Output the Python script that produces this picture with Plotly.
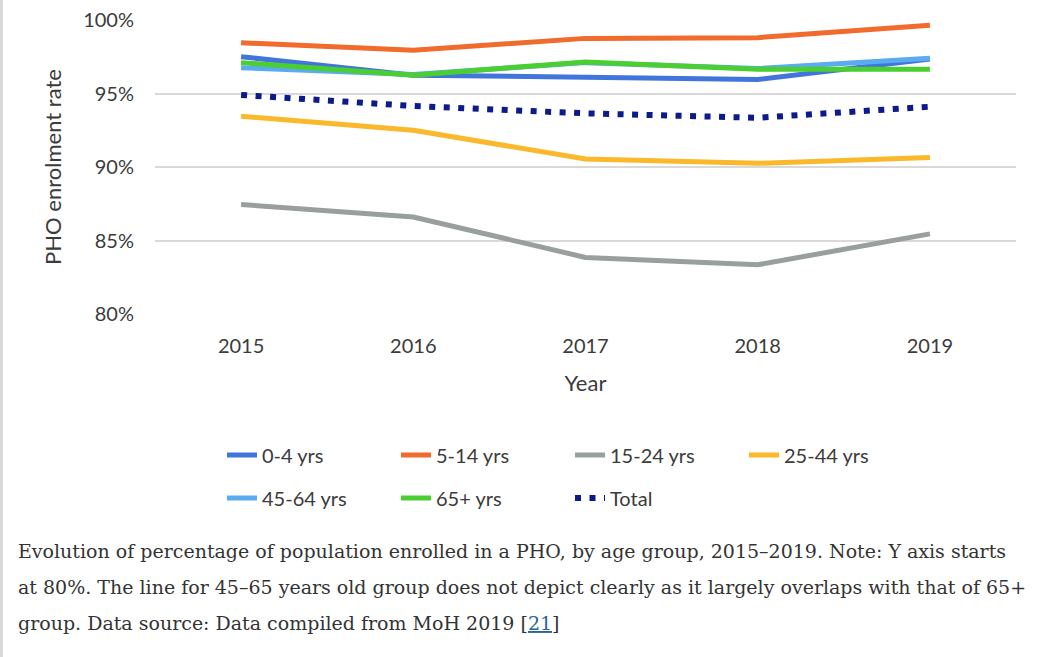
import plotly.graph_objects as go

# values
years = ["2015", "2016", "2017", "2018", "2019"]
age_0_4 = [97.5, 96.25, 96.1, 95.95, 97.35]
age_5_14 = [98.45, 97.95, 98.75, 98.8, 99.65]
age_15_24 = [87.45, 86.6, 83.85, 83.35, 85.45]
age_25_44 = [93.45, 92.5, 90.55, 90.25, 90.65]
age_45_64 = [96.75, 96.3, 97.1, 96.7, 97.4]
age_65_plus = [97.1, 96.25, 97.15, 96.65, 96.65]
total = [94.9, 94.15, 93.65, 93.35, 94.1]

y_ticks = [80, 85, 90, 95, 100]
y_tick_labels = ["80%", "85%", "90%", "95%", "100%"]

caption_lines = [
    "Evolution of percentage of population enrolled in a PHO, by age group, 2015\u20132019. Note: Y axis starts",
    "at 80%. The line for 45\u201365 years old group does not depict clearly as it largely overlaps with that of 65+",
    "group. Data source: Data compiled from MoH 2019 [<span style='color:#2a6496'><u>21</u></span>]",
]

series = [
    ("0-4 yrs", age_0_4, "#4275dc", "solid", "legend"),
    ("5-14 yrs", age_5_14, "#f06b2c", "solid", "legend"),
    ("15-24 yrs", age_15_24, "#999f9d", "solid", "legend"),
    ("25-44 yrs", age_25_44, "#fab82a", "solid", "legend"),
    ("45-64 yrs", age_45_64, "#5aabf0", "solid", "legend2"),
    ("65+ yrs", age_65_plus, "#4bcf30", "solid", "legend2"),
    ("Total", total, "#0b1a8c", "6px,8.5px", "legend2"),
]

FONT = "Lato, Open Sans, sans-serif"
TXT = "#3b3b3b"

fig = go.Figure()
for name, vals, col, dash, leg in series:
    fig.add_trace(go.Scatter(
        x=years, y=vals, name=name, mode="lines",
        line=dict(color=col, width=6 if name == "Total" else 5, dash=dash),
        legend=leg,
    ))

# plot area geometry (px) used for paper coords of the text outside it
L, R, T, B = 155, 34, 20, 343
W, H = 1050, 657
pw, ph = W - L - R, H - T - B


def px_x(x):
    return (x - L) / pw


def px_y(y):
    return (H - B - y) / ph


legend_common = dict(
    orientation="h", xanchor="left", yanchor="middle",
    font=dict(family=FONT, size=20, color=TXT),
    entrywidth=129, itemwidth=30, bgcolor="rgba(0,0,0,0)",
)

fig.update_layout(
    width=W, height=H,
    margin=dict(l=L, r=R, t=T, b=B, autoexpand=False),
    plot_bgcolor="white", paper_bgcolor="white",
    font=dict(family=FONT, color=TXT),
    legend=dict(x=px_x(222), y=px_y(455), **legend_common),
    legend2=dict(x=px_x(222), y=px_y(498), **legend_common),
    xaxis=dict(
        type="category", range=[-0.5, 4.5],
        showgrid=False, showline=False, ticks="",
        tickfont=dict(size=20, color=TXT), ticklabelstandoff=18,
        title=dict(text="Year", font=dict(size=22, color=TXT), standoff=19),
    ),
    yaxis=dict(
        range=[80, 100], tickmode="array", tickvals=y_ticks, ticktext=y_tick_labels,
        showgrid=True, gridcolor="#d9d9d9", gridwidth=1.5,
        zeroline=False, showline=False, ticks="",
        tickfont=dict(size=20, color=TXT), ticklabelstandoff=20,
        title=dict(text="PHO enrolment rate", font=dict(size=22, color=TXT), standoff=15),
    ),
)

# caption below the chart
for i, line in enumerate(caption_lines):
    fig.add_annotation(
        text=line, xref="paper", yref="paper",
        x=px_x(16), y=px_y(551 + i * 36), xanchor="left", yanchor="middle",
        showarrow=False, align="left",
        font=dict(family="DejaVu Serif, Liberation Serif, serif", size=19, color="#333333"),
    )

# thin grey strip on the left edge of the page
fig.add_shape(
    type="rect", xref="paper", yref="paper",
    x0=px_x(0), x1=px_x(3), y0=px_y(H), y1=px_y(0),
    fillcolor="#d9d9d9", line_width=0, layer="below",
)

# drop the browser's default body margin so the figure sits at the page corner
fig.write_html(
    "out.html",
    config={"displayModeBar": False},
    post_script="document.body.style.margin='0';",
)
